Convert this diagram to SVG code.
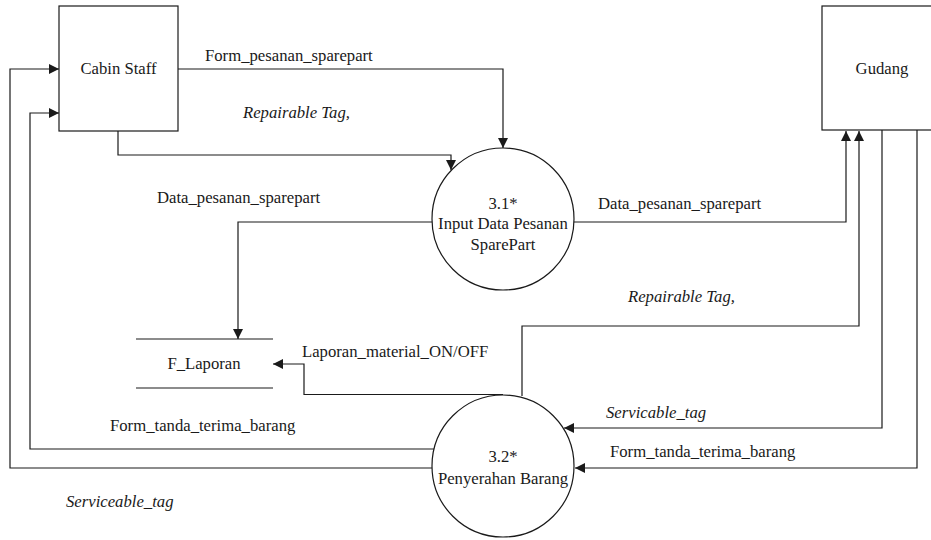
<svg xmlns="http://www.w3.org/2000/svg" width="931" height="540" viewBox="0 0 931 540">
  <style>
    .shape { fill: #ffffff; stroke: #1a1a1a; stroke-width: 1.2; }
    .flow { fill: none; stroke: #1a1a1a; stroke-width: 1.2; marker-end: url(#arrow); }
    .plain { fill: none; stroke: #1a1a1a; stroke-width: 1.2; }
    text { font-family: 'Liberation Serif', Tinos, 'Times New Roman', 'Nimbus Roman', 'DejaVu Serif', serif; font-size: 16.7px; fill: #1a1a1a; }
    .mid { text-anchor: middle; }
    .it { font-style: italic; }
  </style>
  <defs>
    <marker id="arrow" markerUnits="userSpaceOnUse" markerWidth="11" markerHeight="11" refX="10" refY="5" orient="auto">
      <path d="M0,0 L10,5 L0,10 Z" fill="#1a1a1a"/>
    </marker>
  </defs>

  <rect width="931" height="540" fill="#ffffff"/>

  <!-- data flows -->
  <g id="connectors">
    <path class="flow" d="M178,69 H503 V148"/>
    <path class="flow" d="M118,131 V155 H451 V170"/>
    <path class="flow" d="M432,222 H238 V339"/>
    <path class="flow" d="M574,222 H846 V131"/>
    <path class="flow" d="M522,396 V326 H859 V131"/>
    <path class="flow" d="M503,394.5 H304 V364 H273"/>
    <path class="flow" d="M882,130 V428 H564"/>
    <path class="flow" d="M917,130 V468 H575"/>
    <path class="flow" d="M434,449 H30 V113 H59"/>
    <path class="flow" d="M432,468 H10 V69 H59"/>

    <text x="205" y="61">Form_pesanan_sparepart</text>
    <text class="it" x="243" y="118">Repairable Tag,</text>
    <text x="157" y="203">Data_pesanan_sparepart</text>
    <text x="598" y="209">Data_pesanan_sparepart</text>
    <text class="it" x="628" y="302">Repairable Tag,</text>
    <text x="302" y="357">Laporan_material_ON/OFF</text>
    <text x="110" y="431">Form_tanda_terima_barang</text>
    <text class="it" x="606" y="418">Servicable_tag</text>
    <text x="610" y="457">Form_tanda_terima_barang</text>
    <text class="it" x="66" y="507">Serviceable_tag</text>
  </g>

  <g id="cabin-staff">
    <rect class="shape" x="59" y="6" width="119" height="125"/>
    <text class="mid" x="118.5" y="74">Cabin Staff</text>
  </g>

  <g id="gudang">
    <rect class="shape" x="822" y="6" width="130" height="124"/>
    <text class="mid" x="882" y="74">Gudang</text>
  </g>

  <g id="proses-3-1">
    <circle class="shape" cx="503" cy="219" r="71"/>
    <text class="mid" x="503" y="209">3.1*</text>
    <text class="mid" x="503" y="229">Input Data Pesanan</text>
    <text class="mid" x="503" y="250">SparePart</text>
  </g>

  <g id="proses-3-2">
    <circle class="shape" cx="503" cy="466" r="71"/>
    <text class="mid" x="503" y="462">3.2*</text>
    <text class="mid" x="503" y="484">Penyerahan Barang</text>
  </g>

  <g id="f-laporan">
    <line class="plain" x1="136" y1="339" x2="273" y2="339"/>
    <line class="plain" x1="136" y1="388" x2="273" y2="388"/>
    <text class="mid" x="204" y="369">F_Laporan</text>
  </g>
</svg>
